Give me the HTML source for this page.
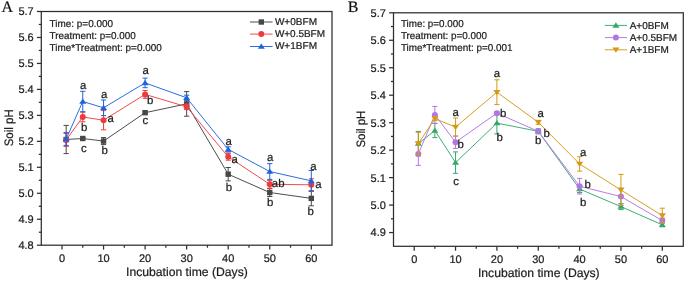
<!DOCTYPE html>
<html><head><meta charset="utf-8"><style>
html,body{margin:0;padding:0;background:#fff;width:685px;height:281px;overflow:hidden}
svg{display:block;will-change:transform}
</style></head><body>
<svg width="685" height="281" viewBox="0 0 685 281">
<style>
text{font-family:"Liberation Sans", sans-serif;fill:#1c1c1c;stroke:#1c1c1c;stroke-width:0.22px;text-rendering:geometricPrecision}
.tk{font-size:11px}
.ti{font-size:12.2px}
.st{font-size:10px}
.lg{font-size:10px}
.lt{font-size:11.4px}
.pl{font-family:"Liberation Serif", serif;font-size:16px;fill:#111}
</style>
<rect width="685" height="281" fill="#fff"/>
<rect x="41.3" y="11.5" width="290.70" height="233.70" fill="none" stroke="#2e2e2e" stroke-width="1.25"/>
<line x1="36.9" y1="245.20" x2="41.3" y2="245.20" stroke="#2e2e2e" stroke-width="1.25"/>
<text x="33.70" y="249.10" text-anchor="end" class="tk">4.8</text>
<line x1="38.8" y1="232.22" x2="41.3" y2="232.22" stroke="#2e2e2e" stroke-width="1.25"/>
<line x1="36.9" y1="219.23" x2="41.3" y2="219.23" stroke="#2e2e2e" stroke-width="1.25"/>
<text x="33.70" y="223.13" text-anchor="end" class="tk">4.9</text>
<line x1="38.8" y1="206.25" x2="41.3" y2="206.25" stroke="#2e2e2e" stroke-width="1.25"/>
<line x1="36.9" y1="193.27" x2="41.3" y2="193.27" stroke="#2e2e2e" stroke-width="1.25"/>
<text x="33.70" y="197.17" text-anchor="end" class="tk">5.0</text>
<line x1="38.8" y1="180.28" x2="41.3" y2="180.28" stroke="#2e2e2e" stroke-width="1.25"/>
<line x1="36.9" y1="167.30" x2="41.3" y2="167.30" stroke="#2e2e2e" stroke-width="1.25"/>
<text x="33.70" y="171.20" text-anchor="end" class="tk">5.1</text>
<line x1="38.8" y1="154.32" x2="41.3" y2="154.32" stroke="#2e2e2e" stroke-width="1.25"/>
<line x1="36.9" y1="141.33" x2="41.3" y2="141.33" stroke="#2e2e2e" stroke-width="1.25"/>
<text x="33.70" y="145.23" text-anchor="end" class="tk">5.2</text>
<line x1="38.8" y1="128.35" x2="41.3" y2="128.35" stroke="#2e2e2e" stroke-width="1.25"/>
<line x1="36.9" y1="115.37" x2="41.3" y2="115.37" stroke="#2e2e2e" stroke-width="1.25"/>
<text x="33.70" y="119.27" text-anchor="end" class="tk">5.3</text>
<line x1="38.8" y1="102.38" x2="41.3" y2="102.38" stroke="#2e2e2e" stroke-width="1.25"/>
<line x1="36.9" y1="89.40" x2="41.3" y2="89.40" stroke="#2e2e2e" stroke-width="1.25"/>
<text x="33.70" y="93.30" text-anchor="end" class="tk">5.4</text>
<line x1="38.8" y1="76.42" x2="41.3" y2="76.42" stroke="#2e2e2e" stroke-width="1.25"/>
<line x1="36.9" y1="63.43" x2="41.3" y2="63.43" stroke="#2e2e2e" stroke-width="1.25"/>
<text x="33.70" y="67.33" text-anchor="end" class="tk">5.5</text>
<line x1="38.8" y1="50.45" x2="41.3" y2="50.45" stroke="#2e2e2e" stroke-width="1.25"/>
<line x1="36.9" y1="37.47" x2="41.3" y2="37.47" stroke="#2e2e2e" stroke-width="1.25"/>
<text x="33.70" y="41.37" text-anchor="end" class="tk">5.6</text>
<line x1="38.8" y1="24.48" x2="41.3" y2="24.48" stroke="#2e2e2e" stroke-width="1.25"/>
<line x1="36.9" y1="11.50" x2="41.3" y2="11.50" stroke="#2e2e2e" stroke-width="1.25"/>
<text x="33.70" y="15.40" text-anchor="end" class="tk">5.7</text>
<line x1="62.00" y1="245.2" x2="62.00" y2="249.6" stroke="#2e2e2e" stroke-width="1.25"/>
<text x="62.00" y="261.80" text-anchor="middle" class="tk">0</text>
<line x1="103.55" y1="245.2" x2="103.55" y2="249.6" stroke="#2e2e2e" stroke-width="1.25"/>
<text x="103.55" y="261.80" text-anchor="middle" class="tk">10</text>
<line x1="145.10" y1="245.2" x2="145.10" y2="249.6" stroke="#2e2e2e" stroke-width="1.25"/>
<text x="145.10" y="261.80" text-anchor="middle" class="tk">20</text>
<line x1="186.65" y1="245.2" x2="186.65" y2="249.6" stroke="#2e2e2e" stroke-width="1.25"/>
<text x="186.65" y="261.80" text-anchor="middle" class="tk">30</text>
<line x1="228.20" y1="245.2" x2="228.20" y2="249.6" stroke="#2e2e2e" stroke-width="1.25"/>
<text x="228.20" y="261.80" text-anchor="middle" class="tk">40</text>
<line x1="269.75" y1="245.2" x2="269.75" y2="249.6" stroke="#2e2e2e" stroke-width="1.25"/>
<text x="269.75" y="261.80" text-anchor="middle" class="tk">50</text>
<line x1="311.30" y1="245.2" x2="311.30" y2="249.6" stroke="#2e2e2e" stroke-width="1.25"/>
<text x="311.30" y="261.80" text-anchor="middle" class="tk">60</text>
<line x1="82.78" y1="245.2" x2="82.78" y2="247.7" stroke="#2e2e2e" stroke-width="1.25"/>
<line x1="124.33" y1="245.2" x2="124.33" y2="247.7" stroke="#2e2e2e" stroke-width="1.25"/>
<line x1="165.88" y1="245.2" x2="165.88" y2="247.7" stroke="#2e2e2e" stroke-width="1.25"/>
<line x1="207.43" y1="245.2" x2="207.43" y2="247.7" stroke="#2e2e2e" stroke-width="1.25"/>
<line x1="248.98" y1="245.2" x2="248.98" y2="247.7" stroke="#2e2e2e" stroke-width="1.25"/>
<line x1="290.52" y1="245.2" x2="290.52" y2="247.7" stroke="#2e2e2e" stroke-width="1.25"/>
<text x="1.4" y="11.5" class="pl">A</text>
<rect x="393.5" y="12.8" width="289.80" height="233.50" fill="none" stroke="#2e2e2e" stroke-width="1.25"/>
<line x1="389.1" y1="232.56" x2="393.5" y2="232.56" stroke="#2e2e2e" stroke-width="1.25"/>
<text x="385.90" y="236.46" text-anchor="end" class="tk">4.9</text>
<line x1="391.0" y1="218.83" x2="393.5" y2="218.83" stroke="#2e2e2e" stroke-width="1.25"/>
<line x1="389.1" y1="205.09" x2="393.5" y2="205.09" stroke="#2e2e2e" stroke-width="1.25"/>
<text x="385.90" y="208.99" text-anchor="end" class="tk">5.0</text>
<line x1="391.0" y1="191.36" x2="393.5" y2="191.36" stroke="#2e2e2e" stroke-width="1.25"/>
<line x1="389.1" y1="177.62" x2="393.5" y2="177.62" stroke="#2e2e2e" stroke-width="1.25"/>
<text x="385.90" y="181.52" text-anchor="end" class="tk">5.1</text>
<line x1="391.0" y1="163.89" x2="393.5" y2="163.89" stroke="#2e2e2e" stroke-width="1.25"/>
<line x1="389.1" y1="150.15" x2="393.5" y2="150.15" stroke="#2e2e2e" stroke-width="1.25"/>
<text x="385.90" y="154.05" text-anchor="end" class="tk">5.2</text>
<line x1="391.0" y1="136.42" x2="393.5" y2="136.42" stroke="#2e2e2e" stroke-width="1.25"/>
<line x1="389.1" y1="122.68" x2="393.5" y2="122.68" stroke="#2e2e2e" stroke-width="1.25"/>
<text x="385.90" y="126.58" text-anchor="end" class="tk">5.3</text>
<line x1="391.0" y1="108.95" x2="393.5" y2="108.95" stroke="#2e2e2e" stroke-width="1.25"/>
<line x1="389.1" y1="95.21" x2="393.5" y2="95.21" stroke="#2e2e2e" stroke-width="1.25"/>
<text x="385.90" y="99.11" text-anchor="end" class="tk">5.4</text>
<line x1="391.0" y1="81.48" x2="393.5" y2="81.48" stroke="#2e2e2e" stroke-width="1.25"/>
<line x1="389.1" y1="67.74" x2="393.5" y2="67.74" stroke="#2e2e2e" stroke-width="1.25"/>
<text x="385.90" y="71.64" text-anchor="end" class="tk">5.5</text>
<line x1="391.0" y1="54.01" x2="393.5" y2="54.01" stroke="#2e2e2e" stroke-width="1.25"/>
<line x1="389.1" y1="40.27" x2="393.5" y2="40.27" stroke="#2e2e2e" stroke-width="1.25"/>
<text x="385.90" y="44.17" text-anchor="end" class="tk">5.6</text>
<line x1="391.0" y1="26.54" x2="393.5" y2="26.54" stroke="#2e2e2e" stroke-width="1.25"/>
<line x1="389.1" y1="12.80" x2="393.5" y2="12.80" stroke="#2e2e2e" stroke-width="1.25"/>
<text x="385.90" y="16.70" text-anchor="end" class="tk">5.7</text>
<line x1="414.20" y1="246.3" x2="414.20" y2="250.70000000000002" stroke="#2e2e2e" stroke-width="1.25"/>
<text x="414.20" y="262.90" text-anchor="middle" class="tk">0</text>
<line x1="455.55" y1="246.3" x2="455.55" y2="250.70000000000002" stroke="#2e2e2e" stroke-width="1.25"/>
<text x="455.55" y="262.90" text-anchor="middle" class="tk">10</text>
<line x1="496.90" y1="246.3" x2="496.90" y2="250.70000000000002" stroke="#2e2e2e" stroke-width="1.25"/>
<text x="496.90" y="262.90" text-anchor="middle" class="tk">20</text>
<line x1="538.25" y1="246.3" x2="538.25" y2="250.70000000000002" stroke="#2e2e2e" stroke-width="1.25"/>
<text x="538.25" y="262.90" text-anchor="middle" class="tk">30</text>
<line x1="579.60" y1="246.3" x2="579.60" y2="250.70000000000002" stroke="#2e2e2e" stroke-width="1.25"/>
<text x="579.60" y="262.90" text-anchor="middle" class="tk">40</text>
<line x1="620.95" y1="246.3" x2="620.95" y2="250.70000000000002" stroke="#2e2e2e" stroke-width="1.25"/>
<text x="620.95" y="262.90" text-anchor="middle" class="tk">50</text>
<line x1="662.30" y1="246.3" x2="662.30" y2="250.70000000000002" stroke="#2e2e2e" stroke-width="1.25"/>
<text x="662.30" y="262.90" text-anchor="middle" class="tk">60</text>
<line x1="434.88" y1="246.3" x2="434.88" y2="248.8" stroke="#2e2e2e" stroke-width="1.25"/>
<line x1="476.22" y1="246.3" x2="476.22" y2="248.8" stroke="#2e2e2e" stroke-width="1.25"/>
<line x1="517.58" y1="246.3" x2="517.58" y2="248.8" stroke="#2e2e2e" stroke-width="1.25"/>
<line x1="558.92" y1="246.3" x2="558.92" y2="248.8" stroke="#2e2e2e" stroke-width="1.25"/>
<line x1="600.27" y1="246.3" x2="600.27" y2="248.8" stroke="#2e2e2e" stroke-width="1.25"/>
<line x1="641.62" y1="246.3" x2="641.62" y2="248.8" stroke="#2e2e2e" stroke-width="1.25"/>
<text x="347.8" y="11.7" class="pl">B</text>
<text x="126.0" y="276" class="ti" textLength="121.8" lengthAdjust="spacingAndGlyphs">Incubation time (Days)</text>
<text x="477.9" y="277" class="ti" textLength="121.8" lengthAdjust="spacingAndGlyphs">Incubation time (Days)</text>
<text transform="translate(12.6,146.3) rotate(-90)" class="ti" textLength="37" lengthAdjust="spacingAndGlyphs">Soil pH</text>
<text transform="translate(365.1,147.6) rotate(-90)" class="ti" textLength="37" lengthAdjust="spacingAndGlyphs">Soil pH</text>
<text x="49.6" y="27" class="st" textLength="63.4" lengthAdjust="spacingAndGlyphs">Time: p=0.000</text>
<text x="49.6" y="39" class="st" textLength="86.2" lengthAdjust="spacingAndGlyphs">Treatment: p=0.000</text>
<text x="49.6" y="51" class="st" textLength="112.2" lengthAdjust="spacingAndGlyphs">Time*Treatment: p=0.000</text>
<text x="400.9" y="27" class="st" textLength="62.8" lengthAdjust="spacingAndGlyphs">Time: p=0.000</text>
<text x="400.9" y="39" class="st" textLength="86.0" lengthAdjust="spacingAndGlyphs">Treatment: p=0.000</text>
<text x="400.9" y="51" class="st" textLength="111.6" lengthAdjust="spacingAndGlyphs">Time*Treatment: p=0.001</text>
<line x1="250.0" y1="22.0" x2="272.6" y2="22.0" stroke="#4e4e4e" stroke-width="1.0"/>
<rect x="258.60" y="19.30" width="5.4" height="5.4" fill="#474747"/>
<text x="274.9" y="25" class="lg" textLength="42.1" lengthAdjust="spacingAndGlyphs">W+0BFM</text>
<line x1="250.0" y1="34.1" x2="272.6" y2="34.1" stroke="#f04a4f" stroke-width="1.0"/>
<circle cx="261.30" cy="34.10" r="3.0" fill="#ef3a3f"/>
<text x="274.9" y="37" class="lg" textLength="50.1" lengthAdjust="spacingAndGlyphs">W+0.5BFM</text>
<line x1="250.0" y1="46.5" x2="272.6" y2="46.5" stroke="#2a6ee0" stroke-width="1.0"/>
<polygon points="261.30,43.43 264.80,48.73 257.80,48.73" fill="#1d63dc"/>
<text x="274.9" y="49" class="lg" textLength="42.1" lengthAdjust="spacingAndGlyphs">W+1BFM</text>
<line x1="604.8" y1="25.4" x2="627.0" y2="25.4" stroke="#40ae73" stroke-width="1.0"/>
<polygon points="615.90,22.33 619.40,27.63 612.40,27.63" fill="#35a86a"/>
<text x="629.7" y="29" class="lg" textLength="39.1" lengthAdjust="spacingAndGlyphs">A+0BFM</text>
<line x1="604.8" y1="37.6" x2="627.0" y2="37.6" stroke="#b67de6" stroke-width="1.0"/>
<circle cx="615.90" cy="37.60" r="3.0" fill="#b276e4"/>
<text x="629.7" y="41" class="lg" textLength="47.4" lengthAdjust="spacingAndGlyphs">A+0.5BFM</text>
<line x1="604.8" y1="49.8" x2="627.0" y2="49.8" stroke="#d6a022" stroke-width="1.0"/>
<polygon points="615.90,52.87 619.40,47.57 612.40,47.57" fill="#d39a12"/>
<text x="629.7" y="53" class="lg" textLength="39.1" lengthAdjust="spacingAndGlyphs">A+1BFM</text>
<path d="M66.16 125.40V153.60M63.55 125.40h5.2M63.55 153.60h5.2" stroke="#474747" stroke-width="1" fill="none"/>
<path d="M82.78 137.50V139.50M80.18 137.50h5.2M80.18 139.50h5.2" stroke="#474747" stroke-width="1" fill="none"/>
<path d="M103.55 137.60V144.60M100.95 137.60h5.2M100.95 144.60h5.2" stroke="#474747" stroke-width="1" fill="none"/>
<path d="M145.10 111.70V113.70M142.50 111.70h5.2M142.50 113.70h5.2" stroke="#474747" stroke-width="1" fill="none"/>
<path d="M186.65 91.60V116.20M184.05 91.60h5.2M184.05 116.20h5.2" stroke="#474747" stroke-width="1" fill="none"/>
<path d="M228.20 167.50V180.90M225.60 167.50h5.2M225.60 180.90h5.2" stroke="#474747" stroke-width="1" fill="none"/>
<path d="M269.75 188.50V196.50M267.15 188.50h5.2M267.15 196.50h5.2" stroke="#474747" stroke-width="1" fill="none"/>
<path d="M311.30 191.00V205.80M308.70 191.00h5.2M308.70 205.80h5.2" stroke="#474747" stroke-width="1" fill="none"/>
<polyline points="66.16,139.50 82.78,138.50 103.55,141.10 145.10,112.70 186.65,103.90 228.20,174.20 269.75,192.50 311.30,198.40" fill="none" stroke="#4e4e4e" stroke-width="1.0"/>
<rect x="63.45" y="136.80" width="5.4" height="5.4" fill="#474747"/>
<rect x="80.08" y="135.80" width="5.4" height="5.4" fill="#474747"/>
<rect x="100.85" y="138.40" width="5.4" height="5.4" fill="#474747"/>
<rect x="142.40" y="110.00" width="5.4" height="5.4" fill="#474747"/>
<rect x="183.95" y="101.20" width="5.4" height="5.4" fill="#474747"/>
<rect x="225.50" y="171.50" width="5.4" height="5.4" fill="#474747"/>
<rect x="267.05" y="189.80" width="5.4" height="5.4" fill="#474747"/>
<rect x="308.60" y="195.70" width="5.4" height="5.4" fill="#474747"/>
<path d="M66.16 133.40V146.40M63.55 133.40h5.2M63.55 146.40h5.2" stroke="#ef3a3f" stroke-width="1" fill="none"/>
<path d="M82.78 112.20V121.80M80.18 112.20h5.2M80.18 121.80h5.2" stroke="#ef3a3f" stroke-width="1" fill="none"/>
<path d="M103.55 110.60V129.80M100.95 110.60h5.2M100.95 129.80h5.2" stroke="#ef3a3f" stroke-width="1" fill="none"/>
<path d="M145.10 90.50V98.30M142.50 90.50h5.2M142.50 98.30h5.2" stroke="#ef3a3f" stroke-width="1" fill="none"/>
<path d="M186.65 104.00V109.60M184.05 104.00h5.2M184.05 109.60h5.2" stroke="#ef3a3f" stroke-width="1" fill="none"/>
<path d="M228.20 153.40V160.20M225.60 153.40h5.2M225.60 160.20h5.2" stroke="#ef3a3f" stroke-width="1" fill="none"/>
<path d="M269.75 180.40V188.20M267.15 180.40h5.2M267.15 188.20h5.2" stroke="#ef3a3f" stroke-width="1" fill="none"/>
<path d="M311.30 178.80V190.80M308.70 178.80h5.2M308.70 190.80h5.2" stroke="#ef3a3f" stroke-width="1" fill="none"/>
<polyline points="66.16,139.90 82.78,117.00 103.55,120.20 145.10,94.40 186.65,106.80 228.20,156.80 269.75,184.30 311.30,184.80" fill="none" stroke="#f04a4f" stroke-width="1.0"/>
<circle cx="66.16" cy="139.90" r="3.0" fill="#ef3a3f"/>
<circle cx="82.78" cy="117.00" r="3.0" fill="#ef3a3f"/>
<circle cx="103.55" cy="120.20" r="3.0" fill="#ef3a3f"/>
<circle cx="145.10" cy="94.40" r="3.0" fill="#ef3a3f"/>
<circle cx="186.65" cy="106.80" r="3.0" fill="#ef3a3f"/>
<circle cx="228.20" cy="156.80" r="3.0" fill="#ef3a3f"/>
<circle cx="269.75" cy="184.30" r="3.0" fill="#ef3a3f"/>
<circle cx="311.30" cy="184.80" r="3.0" fill="#ef3a3f"/>
<path d="M66.16 132.60V145.40M63.55 132.60h5.2M63.55 145.40h5.2" stroke="#1d63dc" stroke-width="1" fill="none"/>
<path d="M82.78 91.30V111.70M80.18 91.30h5.2M80.18 111.70h5.2" stroke="#1d63dc" stroke-width="1" fill="none"/>
<path d="M103.55 100.00V115.60M100.95 100.00h5.2M100.95 115.60h5.2" stroke="#1d63dc" stroke-width="1" fill="none"/>
<path d="M145.10 78.10V87.70M142.50 78.10h5.2M142.50 87.70h5.2" stroke="#1d63dc" stroke-width="1" fill="none"/>
<path d="M186.65 95.20V100.40M184.05 95.20h5.2M184.05 100.40h5.2" stroke="#1d63dc" stroke-width="1" fill="none"/>
<path d="M228.20 146.80V152.00M225.60 146.80h5.2M225.60 152.00h5.2" stroke="#1d63dc" stroke-width="1" fill="none"/>
<path d="M269.75 163.60V179.40M267.15 163.60h5.2M267.15 179.40h5.2" stroke="#1d63dc" stroke-width="1" fill="none"/>
<path d="M311.30 170.50V191.30M308.70 170.50h5.2M308.70 191.30h5.2" stroke="#1d63dc" stroke-width="1" fill="none"/>
<polyline points="66.16,139.00 82.78,101.50 103.55,107.80 145.10,82.90 186.65,97.80 228.20,149.40 269.75,171.50 311.30,180.90" fill="none" stroke="#2a6ee0" stroke-width="1.0"/>
<polygon points="66.16,135.93 69.66,141.23 62.66,141.23" fill="#1d63dc"/>
<polygon points="82.78,98.43 86.28,103.73 79.28,103.73" fill="#1d63dc"/>
<polygon points="103.55,104.73 107.05,110.03 100.05,110.03" fill="#1d63dc"/>
<polygon points="145.10,79.83 148.60,85.13 141.60,85.13" fill="#1d63dc"/>
<polygon points="186.65,94.73 190.15,100.03 183.15,100.03" fill="#1d63dc"/>
<polygon points="228.20,146.33 231.70,151.63 224.70,151.63" fill="#1d63dc"/>
<polygon points="269.75,168.43 273.25,173.73 266.25,173.73" fill="#1d63dc"/>
<polygon points="311.30,177.83 314.80,183.13 307.80,183.13" fill="#1d63dc"/>
<path d="M418.33 131.40V155.80M415.73 131.40h5.2M415.73 155.80h5.2" stroke="#35a86a" stroke-width="1" fill="none"/>
<path d="M434.88 123.40V137.60M432.27 123.40h5.2M432.27 137.60h5.2" stroke="#35a86a" stroke-width="1" fill="none"/>
<path d="M455.55 151.90V173.30M452.95 151.90h5.2M452.95 173.30h5.2" stroke="#35a86a" stroke-width="1" fill="none"/>
<path d="M496.90 112.30V133.90M494.30 112.30h5.2M494.30 133.90h5.2" stroke="#35a86a" stroke-width="1" fill="none"/>
<path d="M538.25 128.80V133.80M535.65 128.80h5.2M535.65 133.80h5.2" stroke="#35a86a" stroke-width="1" fill="none"/>
<path d="M579.60 185.50V192.50M577.00 185.50h5.2M577.00 192.50h5.2" stroke="#35a86a" stroke-width="1" fill="none"/>
<path d="M620.95 203.60V209.60M618.35 203.60h5.2M618.35 209.60h5.2" stroke="#35a86a" stroke-width="1" fill="none"/>
<path d="M662.30 222.80V226.80M659.70 222.80h5.2M659.70 226.80h5.2" stroke="#35a86a" stroke-width="1" fill="none"/>
<polyline points="418.33,143.60 434.88,130.50 455.55,162.60 496.90,123.10 538.25,131.30 579.60,189.00 620.95,206.60 662.30,224.80" fill="none" stroke="#40ae73" stroke-width="1.0"/>
<polygon points="418.33,140.53 421.83,145.83 414.83,145.83" fill="#35a86a"/>
<polygon points="434.88,127.43 438.38,132.73 431.38,132.73" fill="#35a86a"/>
<polygon points="455.55,159.53 459.05,164.83 452.05,164.83" fill="#35a86a"/>
<polygon points="496.90,120.03 500.40,125.33 493.40,125.33" fill="#35a86a"/>
<polygon points="538.25,128.23 541.75,133.53 534.75,133.53" fill="#35a86a"/>
<polygon points="579.60,185.93 583.10,191.23 576.10,191.23" fill="#35a86a"/>
<polygon points="620.95,203.53 624.45,208.83 617.45,208.83" fill="#35a86a"/>
<polygon points="662.30,221.73 665.80,227.03 658.80,227.03" fill="#35a86a"/>
<path d="M418.33 142.40V165.40M415.73 142.40h5.2M415.73 165.40h5.2" stroke="#b276e4" stroke-width="1" fill="none"/>
<path d="M434.88 106.40V123.40M432.27 106.40h5.2M432.27 123.40h5.2" stroke="#b276e4" stroke-width="1" fill="none"/>
<path d="M455.55 136.00V148.40M452.95 136.00h5.2M452.95 148.40h5.2" stroke="#b276e4" stroke-width="1" fill="none"/>
<path d="M496.90 111.70V114.70M494.30 111.70h5.2M494.30 114.70h5.2" stroke="#b276e4" stroke-width="1" fill="none"/>
<path d="M538.25 129.80V132.80M535.65 129.80h5.2M535.65 132.80h5.2" stroke="#b276e4" stroke-width="1" fill="none"/>
<path d="M579.60 178.40V194.00M577.00 178.40h5.2M577.00 194.00h5.2" stroke="#b276e4" stroke-width="1" fill="none"/>
<path d="M620.95 188.20V205.00M618.35 188.20h5.2M618.35 205.00h5.2" stroke="#b276e4" stroke-width="1" fill="none"/>
<path d="M662.30 218.10V223.10M659.70 218.10h5.2M659.70 223.10h5.2" stroke="#b276e4" stroke-width="1" fill="none"/>
<polyline points="418.33,153.90 434.88,114.90 455.55,142.20 496.90,113.20 538.25,131.30 579.60,186.20 620.95,196.60 662.30,220.60" fill="none" stroke="#b67de6" stroke-width="1.0"/>
<circle cx="418.33" cy="153.90" r="3.0" fill="#b276e4"/>
<circle cx="434.88" cy="114.90" r="3.0" fill="#b276e4"/>
<circle cx="455.55" cy="142.20" r="3.0" fill="#b276e4"/>
<circle cx="496.90" cy="113.20" r="3.0" fill="#b276e4"/>
<circle cx="538.25" cy="131.30" r="3.0" fill="#b276e4"/>
<circle cx="579.60" cy="186.20" r="3.0" fill="#b276e4"/>
<circle cx="620.95" cy="196.60" r="3.0" fill="#b276e4"/>
<circle cx="662.30" cy="220.60" r="3.0" fill="#b276e4"/>
<path d="M418.33 132.30V154.90M415.73 132.30h5.2M415.73 154.90h5.2" stroke="#d39a12" stroke-width="1" fill="none"/>
<path d="M434.88 116.60V120.60M432.27 116.60h5.2M432.27 120.60h5.2" stroke="#d39a12" stroke-width="1" fill="none"/>
<path d="M455.55 118.00V136.20M452.95 118.00h5.2M452.95 136.20h5.2" stroke="#d39a12" stroke-width="1" fill="none"/>
<path d="M496.90 79.80V104.60M494.30 79.80h5.2M494.30 104.60h5.2" stroke="#d39a12" stroke-width="1" fill="none"/>
<path d="M538.25 120.30V124.30M535.65 120.30h5.2M535.65 124.30h5.2" stroke="#d39a12" stroke-width="1" fill="none"/>
<path d="M579.60 156.70V171.10M577.00 156.70h5.2M577.00 171.10h5.2" stroke="#d39a12" stroke-width="1" fill="none"/>
<path d="M620.95 174.40V205.60M618.35 174.40h5.2M618.35 205.60h5.2" stroke="#d39a12" stroke-width="1" fill="none"/>
<path d="M662.30 208.20V223.00M659.70 208.20h5.2M659.70 223.00h5.2" stroke="#d39a12" stroke-width="1" fill="none"/>
<polyline points="418.33,143.60 434.88,118.60 455.55,127.10 496.90,92.20 538.25,122.30 579.60,163.90 620.95,190.00 662.30,215.60" fill="none" stroke="#d6a022" stroke-width="1.0"/>
<polygon points="418.33,146.67 421.83,141.37 414.83,141.37" fill="#d39a12"/>
<polygon points="434.88,121.67 438.38,116.37 431.38,116.37" fill="#d39a12"/>
<polygon points="455.55,130.17 459.05,124.87 452.05,124.87" fill="#d39a12"/>
<polygon points="496.90,95.27 500.40,89.97 493.40,89.97" fill="#d39a12"/>
<polygon points="538.25,125.37 541.75,120.07 534.75,120.07" fill="#d39a12"/>
<polygon points="579.60,166.97 583.10,161.67 576.10,161.67" fill="#d39a12"/>
<polygon points="620.95,193.07 624.45,187.77 617.45,187.77" fill="#d39a12"/>
<polygon points="662.30,218.67 665.80,213.37 658.80,213.37" fill="#d39a12"/>
<text x="79.9" y="89.0" class="lt">a</text>
<text x="81.0" y="131.0" class="lt">b</text>
<text x="80.9" y="152.0" class="lt">c</text>
<text x="101.0" y="98.0" class="lt">a</text>
<text x="107.4" y="122.0" class="lt">a</text>
<text x="101.5" y="154.0" class="lt">b</text>
<text x="142.4" y="74.0" class="lt">a</text>
<text x="146.9" y="104.0" class="lt">b</text>
<text x="142.5" y="124.0" class="lt">c</text>
<text x="225.6" y="145.0" class="lt">a</text>
<text x="231.4" y="163.0" class="lt">a</text>
<text x="225.8" y="191.0" class="lt">b</text>
<text x="267.0" y="161.0" class="lt">a</text>
<text x="271.8" y="187.0" class="lt">ab</text>
<text x="267.1" y="206.0" class="lt">b</text>
<text x="310.3" y="170.0" class="lt">a</text>
<text x="315.2" y="188.0" class="lt">a</text>
<text x="307.6" y="215.0" class="lt">b</text>
<text x="452.4" y="116.0" class="lt">a</text>
<text x="457.4" y="148.0" class="lt">b</text>
<text x="453.3" y="185.0" class="lt">c</text>
<text x="493.8" y="77.0" class="lt">a</text>
<text x="500.1" y="117.0" class="lt">b</text>
<text x="496.6" y="141.0" class="lt">b</text>
<text x="537.5" y="117.0" class="lt">a</text>
<text x="543.6" y="137.0" class="lt">b</text>
<text x="535.0" y="144.0" class="lt">b</text>
<text x="579.9" y="156.0" class="lt">a</text>
<text x="584.6" y="188.0" class="lt">b</text>
<text x="579.9" y="206.0" class="lt">b</text>
</svg>
</body></html>
